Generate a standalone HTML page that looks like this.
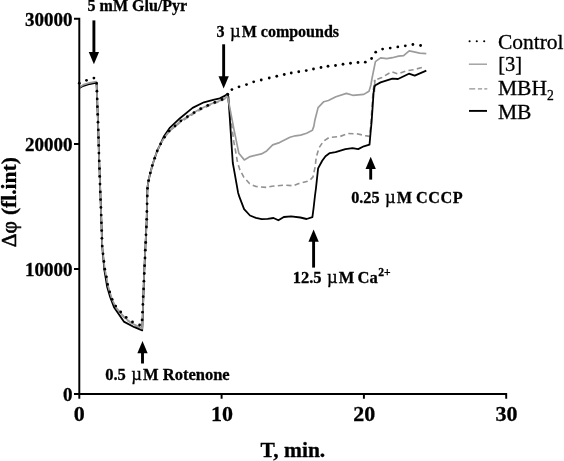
<!DOCTYPE html>
<html><head><meta charset="utf-8"><title>chart</title>
<style>
html,body{margin:0;padding:0;background:#fff;}
body{width:564px;height:461px;overflow:hidden;font-family:"Liberation Serif",serif;}
svg{display:block;will-change:transform;}
text{font-family:"Liberation Serif",serif;fill:#000;stroke:#000;stroke-width:0.3px;}
.b{font-weight:bold;}
.a{font-weight:bold;font-size:16px;}
.yt{font-size:19px;font-weight:bold;text-anchor:end;}
.xt{font-size:22px;font-weight:bold;text-anchor:middle;}
.lg{font-size:21.5px;}
</style></head><body>
<svg width="564" height="461" viewBox="0 0 564 461">
<rect width="564" height="461" fill="#fff"/>
<!-- curves -->
<polyline points="79.3,87.8 83.6,85 89.8,83.2 96.4,82 96.9,91 97.4,106.4 98,122 98.5,137.5 98.9,153 101.4,222 102.3,246.6 104.6,268.8 106.5,278 107.8,285.8 109.9,293.2 112.4,300.8 116,308 121,314 126.7,319.9 133.2,324.5 140,327.7 142.2,329 142.6,320 143.9,280 144.3,270 146.7,220 147.3,192 147.5,187.2 148.7,179.8 150.5,172.3 152.5,164.8 155,157.3 157.4,150.3 160.7,143.6 164.7,137.2 170,130.6 175.7,126.2 180.6,121.9 187.3,117.8 193.9,113.6 200.6,109.7 207.6,106.3 214.5,103.3 222,100.6 227.6,96.8 230.1,112 233.8,141.7 235.4,150 237.6,163 240,170 243.5,176.7 249.7,183.8 255.9,186.5 266.6,187.4 272.1,186.2 284.1,185.1 293.2,185.8 298.2,183.7 309.4,180.8 313,176.9 315.1,167 316.3,157 319.1,147.7 323.4,141.3 329.1,137.5 339.7,136.6 348.2,133.5 356.7,133.8 365.2,135.6 369.6,136.4 369.9,133.5 371,122 373,92.5 374.6,80.2" fill="none" stroke="#929292" stroke-width="1.6" stroke-dasharray="5.2 3.3" stroke-linejoin="round"/>
<polyline points="374.6,80.2 381.9,77.5 391.5,71.8 398,74 406,70.9 414.1,69.6 423.4,67.2" fill="none" stroke="#929292" stroke-width="1.6" stroke-dasharray="5.2 3.3" stroke-dashoffset="5.6" stroke-linejoin="round"/>
<path d="M374.4,92 L374.9,79.8" stroke="#929292" stroke-width="1.6" fill="none"/>
<polyline points="79.3,88 83.6,85.8 89.8,84 96.5,82.7 96.9,91 97.4,106.4 98,122 98.5,137.5 98.9,153 101.4,222 102.2,246.7 104.4,270 107.1,286.7 110.2,297.3 114,307.2 123.8,321.6 134.4,327.2 142.2,330.3 142.6,320 143.9,280 144.3,270 146.7,220 147.3,192 147.5,187.2 148.7,179.8 150.5,172.3 152.5,164.8 155,157.3 157.4,150.3 160.7,143.6 164,136.2 170,127.6 180,118.2 192.6,107.9 203.9,102.3 213.2,99.9 219.8,98.3 225.2,95.6 227.5,93.6 228.4,96.8 231.9,150 232.8,163 233.7,167.8 238.1,192.7 239.4,196.9 244.1,209.1 250,215.5 255.9,217.9 261.7,219.1 267.6,218.9 273.5,218 278.4,220.3 283.8,217 291.1,216.4 300.3,217.5 306.6,219 312.4,217.2 313.6,208 315,195.5 316,188 318.1,168.4 322.2,160.8 325.5,156.2 329.8,153.1 335.5,152.2 345.4,149.1 352.5,148.1 358.2,149.1 363.8,146.3 369.5,144.6 370.5,133.5 371.6,122 373.6,92.5 374.4,86.8 375.4,85.3 380.6,82.4 392.4,78.7 398,79 408.9,73.7 414.7,75.6 426.3,70.6" fill="none" stroke="#000" stroke-width="1.8" stroke-linejoin="round"/>
<polyline points="79.3,87.6 83.6,84.6 89.8,82.8 96.3,81.5 96.9,91 97.4,106.4 98,122 98.5,137.5 98.9,153 101.4,222 102.3,246.5 104.7,268.5 106.6,277.6 107.9,285.4 110,292.8 112.5,300.4 116.1,307.6 121.1,313.6 126.8,319.5 133.3,324.1 140,327.3 142.2,328.7 142.6,320 143.9,280 144.3,270 146.7,220 147.3,192 147.5,187.2 148.7,179.8 150.5,172.3 152.5,164.8 155,157.3 157.4,150.3 160.7,143.6 164.7,137 170,130.2 175.7,125.5 180.6,121 187.3,116.8 193.9,112.6 200.6,108.7 207.6,105.4 214.5,102.5 222,100 227.6,96.5 228.2,99.4 233.8,128.7 238.8,153.2 244.3,159.9 250.1,156.6 261.4,153.9 266.7,150.9 272.7,144.9 279.5,142.6 290,137.3 295.3,135.8 300.6,135.1 306.6,133.2 312.4,130.3 313.8,126.4 315,119.7 318.1,107.6 323.8,101.7 328.4,100.5 335.9,96.8 346.4,93.4 352.8,95.3 363.8,94.4 369,91.2 370.9,85 371.9,79 375.4,61.6 380.6,57.9 386.8,58.6 392.4,57.7 398.6,56.1 403.6,55.7 409.2,50.8 414.1,51.8 419.7,53.1 426.3,53.7" fill="none" stroke="#9c9c9c" stroke-width="1.7" stroke-linejoin="round"/>
<g fill="#000"><circle cx="79.3" cy="83.2" r="1.4"/><circle cx="86.5" cy="80.3" r="1.4"/><circle cx="93.9" cy="78.1" r="1.4"/><circle cx="96.6" cy="83.4" r="1.4"/><circle cx="96.9" cy="91.2" r="1.4"/><circle cx="97.2" cy="98.9" r="1.4"/><circle cx="97.4" cy="106.7" r="1.4"/><circle cx="97.7" cy="114.4" r="1.4"/><circle cx="98.0" cy="122.2" r="1.4"/><circle cx="98.3" cy="129.9" r="1.4"/><circle cx="98.5" cy="137.6" r="1.4"/><circle cx="98.7" cy="145.4" r="1.4"/><circle cx="98.9" cy="153.1" r="1.4"/><circle cx="99.2" cy="160.9" r="1.4"/><circle cx="99.5" cy="168.6" r="1.4"/><circle cx="99.7" cy="176.4" r="1.4"/><circle cx="100.0" cy="184.1" r="1.4"/><circle cx="100.3" cy="191.9" r="1.4"/><circle cx="100.6" cy="199.6" r="1.4"/><circle cx="100.9" cy="207.4" r="1.4"/><circle cx="101.2" cy="215.1" r="1.4"/><circle cx="101.4" cy="222.8" r="1.4"/><circle cx="101.7" cy="230.6" r="1.4"/><circle cx="101.9" cy="238.3" r="1.4"/><circle cx="102.2" cy="246.1" r="1.4"/><circle cx="103.0" cy="253.8" r="1.4"/><circle cx="103.9" cy="261.5" r="1.4"/><circle cx="104.8" cy="269.2" r="1.4"/><circle cx="106.4" cy="276.8" r="1.4"/><circle cx="107.6" cy="284.4" r="1.4"/><circle cx="109.7" cy="291.9" r="1.4"/><circle cx="112.1" cy="299.3" r="1.4"/><circle cx="115.7" cy="306.1" r="1.4"/><circle cx="120.7" cy="312.0" r="1.4"/><circle cx="126.2" cy="317.4" r="1.4"/><circle cx="132.5" cy="322.0" r="1.4"/><circle cx="139.6" cy="325.0" r="1.4"/><circle cx="142.1" cy="319.9" r="1.4"/><circle cx="142.5" cy="312.2" r="1.4"/><circle cx="142.9" cy="304.4" r="1.4"/><circle cx="143.2" cy="296.7" r="1.4"/><circle cx="143.6" cy="288.9" r="1.4"/><circle cx="143.9" cy="281.2" r="1.4"/><circle cx="144.3" cy="273.5" r="1.4"/><circle cx="144.6" cy="265.7" r="1.4"/><circle cx="145.0" cy="258.0" r="1.4"/><circle cx="145.3" cy="250.2" r="1.4"/><circle cx="145.7" cy="242.5" r="1.4"/><circle cx="146.0" cy="234.8" r="1.4"/><circle cx="146.4" cy="227.0" r="1.4"/><circle cx="146.7" cy="219.3" r="1.4"/><circle cx="146.9" cy="211.5" r="1.4"/><circle cx="147.1" cy="203.8" r="1.4"/><circle cx="147.3" cy="196.0" r="1.4"/><circle cx="147.5" cy="188.3" r="1.4"/><circle cx="148.6" cy="180.6" r="1.4"/><circle cx="150.3" cy="173.1" r="1.4"/><circle cx="152.3" cy="165.6" r="1.4"/><circle cx="154.7" cy="158.2" r="1.4"/><circle cx="157.2" cy="150.9" r="1.4"/><circle cx="160.6" cy="143.9" r="1.4"/><circle cx="164.5" cy="137.2" r="1.4"/><circle cx="169.3" cy="131.1" r="1.4"/><circle cx="175.1" cy="126.0" r="1.4"/><circle cx="180.9" cy="120.8" r="1.4"/><circle cx="187.4" cy="116.7" r="1.4"/><circle cx="194.0" cy="112.6" r="1.4"/><circle cx="200.7" cy="108.7" r="1.4"/><circle cx="207.7" cy="105.4" r="1.4"/><circle cx="214.8" cy="102.4" r="1.4"/><circle cx="222.0" cy="99.5" r="1.4"/><circle cx="227.8" cy="94.3" r="1.4"/><circle cx="231.9" cy="89.6" r="1.4"/><circle cx="239" cy="86.8" r="1.4"/><circle cx="246.5" cy="84.6" r="1.4"/><circle cx="253.7" cy="81.8" r="1.4"/><circle cx="261.25" cy="80" r="1.4"/><circle cx="269.25" cy="78" r="1.4"/><circle cx="276.75" cy="76.25" r="1.4"/><circle cx="284.25" cy="74.5" r="1.4"/><circle cx="291.25" cy="73" r="1.4"/><circle cx="298.75" cy="71.75" r="1.4"/><circle cx="306.25" cy="70.6" r="1.4"/><circle cx="313.5" cy="69" r="1.4"/><circle cx="321" cy="67.5" r="1.4"/><circle cx="328" cy="66.25" r="1.4"/><circle cx="335.5" cy="65.5" r="1.4"/><circle cx="343" cy="64.25" r="1.4"/><circle cx="350.5" cy="63.25" r="1.4"/><circle cx="358" cy="62.5" r="1.4"/><circle cx="365.3" cy="62.2" r="1.4"/><circle cx="371.6" cy="58.5" r="1.4"/><circle cx="375.7" cy="52.2" r="1.4"/><circle cx="382.6" cy="49.1" r="1.4"/><circle cx="390.2" cy="48.1" r="1.4"/><circle cx="397.8" cy="46.9" r="1.4"/><circle cx="405.3" cy="45.8" r="1.4"/><circle cx="412.9" cy="44.5" r="1.4"/><circle cx="420.6" cy="45.5" r="1.4"/></g>
<!-- axes -->
<path d="M74,18.7H79.3V393.9H506.2V398.8" fill="none" stroke="#000" stroke-width="1.95" stroke-linejoin="miter"/>
<path d="M74,143.9H79.3M74,268.9H79.3M74,393.9H79.3M79.3,393.9V398.8M221.6,393.9V398.8M363.9,393.9V398.8" fill="none" stroke="#000" stroke-width="1.95"/>
<!-- y tick labels -->
<text class="yt" x="72.4" y="25.8">30000</text>
<text class="yt" x="72.4" y="150.8">20000</text>
<text class="yt" x="72.4" y="275.8">10000</text>
<text class="yt" x="72.4" y="400.8">0</text>
<!-- x tick labels -->
<text class="xt" x="79.3" y="421">0</text>
<text class="xt" x="222" y="421">10</text>
<text class="xt" x="364.3" y="421">20</text>
<text class="xt" x="506.4" y="421">30</text>
<text class="b" font-size="21.5" x="260.5" y="456.8">T, min.</text>
<text font-size="21.5" font-weight="bold" transform="translate(16.1,247.3) rotate(-90)"><tspan font-weight="normal" stroke="#000" stroke-width="0.55">Δφ</tspan><tspan dx="0.6"> (fl.int)</tspan></text>
<!-- annotations -->
<text class="a" x="87.6" y="11.2">5 mM Glu/Pyr</text>
<text class="a" x="216.6" y="37">3 <tspan font-weight="normal" font-size="18.5" dx="1.3">µ</tspan><tspan dx="1.1">M</tspan> compounds</text>
<text class="a" style="font-size:16.5px" x="105.2" y="379.7">0.5 <tspan font-weight="normal" font-size="18.5" dx="1.3">µ</tspan><tspan dx="1.1">M</tspan> Rotenone</text>
<text class="a" style="font-size:16.5px" x="292.7" y="283.1">12.5 <tspan font-weight="normal" font-size="18.5" dx="1.3">µ</tspan><tspan dx="1.1">M</tspan><tspan dx="-1"> Ca</tspan><tspan font-size="11.6" dy="-6.9" dx="0.6">2+</tspan></text>
<text class="a" style="font-size:16.2px" x="351.2" y="202.6">0.25 <tspan font-weight="normal" font-size="18.5" dx="1.3">µ</tspan><tspan dx="1.1">M</tspan> <tspan letter-spacing="0.55">CCCP</tspan></text>
<line x1="93.9" y1="20.4" x2="93.9" y2="53.099999999999994" stroke="#000" stroke-width="2.9"/><polygon points="88.75,52.099999999999994 99.05000000000001,52.099999999999994 93.9,64.3" fill="#000"/>
<line x1="223.65" y1="44.3" x2="223.65" y2="77.3" stroke="#000" stroke-width="2.9"/><polygon points="218.5,76.3 228.8,76.3 223.65,88.5" fill="#000"/>
<line x1="142.5" y1="363.5" x2="142.5" y2="352.2" stroke="#000" stroke-width="2.9"/><polygon points="137.35,353.2 147.65,353.2 142.5,341" fill="#000"/>
<line x1="313.6" y1="267.6" x2="313.6" y2="240.7" stroke="#000" stroke-width="2.9"/><polygon points="308.45000000000005,241.7 318.75,241.7 313.6,229.5" fill="#000"/>
<line x1="370.7" y1="179.6" x2="370.7" y2="168.0" stroke="#000" stroke-width="2.9"/><polygon points="365.55,169.0 375.84999999999997,169.0 370.7,156.8" fill="#000"/>
<!-- legend -->
<g fill="#000"><circle cx="469.6" cy="41.2" r="1.05"/><circle cx="476.8" cy="41.2" r="1.05"/><circle cx="484.2" cy="41.2" r="1.05"/></g>
<line x1="468.9" y1="64.2" x2="487" y2="64.2" stroke="#9c9c9c" stroke-width="1.4"/>
<path d="M469.2,88.9H475.2M477.9,88.9H482.1M484.3,88.9H487.3" stroke="#929292" stroke-width="1.4" fill="none"/>
<line x1="469" y1="110.9" x2="487" y2="110.9" stroke="#000" stroke-width="1.9"/>
<text class="lg" x="497.9" y="48.5">Control</text>
<text class="lg" style="font-size:20.5px" x="498.2" y="71.4">[3]</text>
<text class="lg" x="498" y="95">MBH<tspan font-size="13.6" dy="4.6">2</tspan></text>
<text class="lg" x="498" y="118.8">MB</text>
</svg>
</body></html>
